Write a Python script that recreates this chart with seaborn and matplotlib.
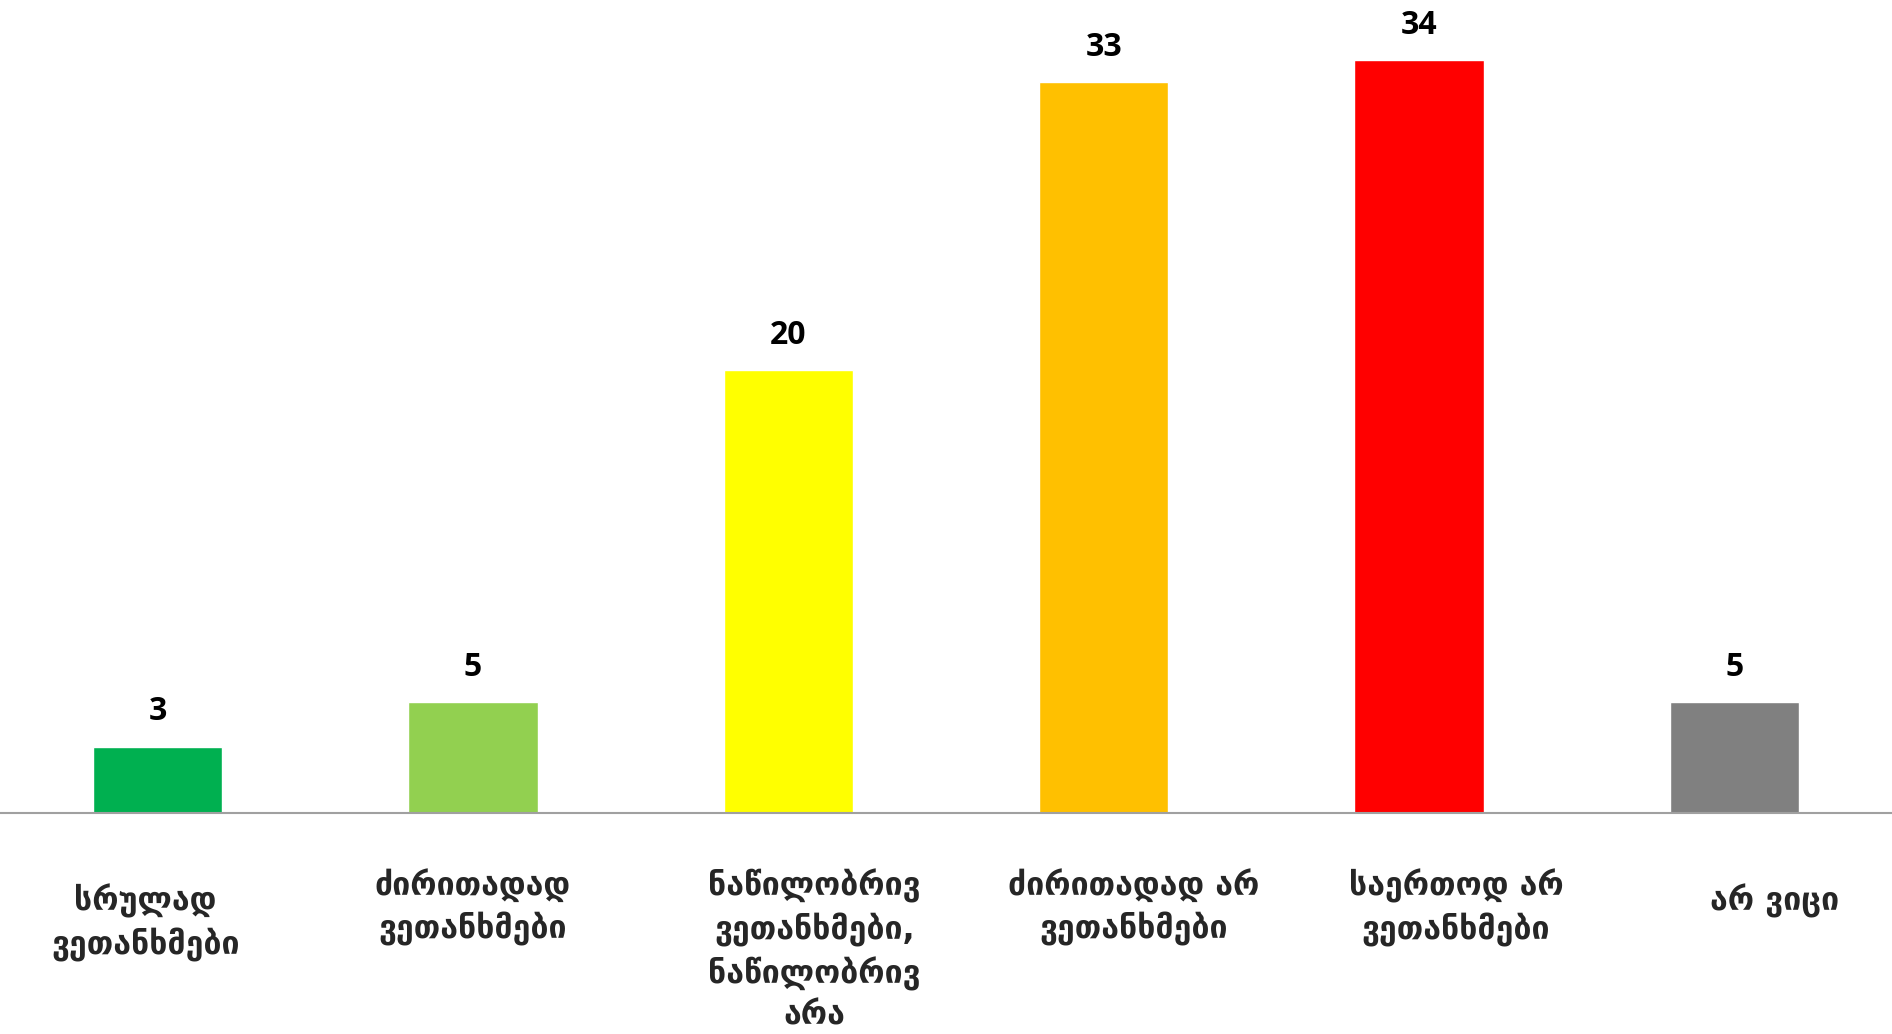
import pandas as pd
import matplotlib
matplotlib.use("Agg")
import matplotlib.pyplot as plt
import matplotlib.transforms as mtransforms
import seaborn as sns

# Datos del gráfico
categorias = [
    "სრულად\nვეთანხმები",
    "ძირითადად\nვეთანხმები",
    "ნაწილობრივ\nვეთანხმები,\nნაწილობრივ\nარა",
    "ძირითადად არ\nვეთანხმები",
    "საერთოდ არ\nვეთანხმები",
    "არ ვიცი",
]
valores = [3, 5, 20, 33, 34, 5]
colores = ["#00B050", "#92D050", "#FFFF00", "#FFC000", "#FF0000", "#808080"]

df = pd.DataFrame({"categoria": categorias, "valor": valores})

sns.set_style("white")
plt.rcParams["font.family"] = ["DejaVu Sans"]

fig = plt.figure(figsize=(18.92, 10.34), dpi=100)
ax = fig.add_axes([0, 1 - 813 / 1034, 1, 813 / 1034])

sns.barplot(data=df, x="categoria", y="valor", hue="categoria",
            palette=colores, width=0.41, legend=False, saturation=1, ax=ax)

# Etiquetas de valor encima de cada barra
for cont in ax.containers:
    ax.bar_label(cont, padding=13, fontsize=23, fontweight="bold",
                 family=["Open Sans", "DejaVu Sans"], color="black")

ax.set_xlim(-0.5, 5.5)
ax.set_ylim(0, 36.7)
ax.set_xlabel("")
ax.set_ylabel("")
ax.set_yticks([])
for lado in ["left", "right", "top"]:
    ax.spines[lado].set_visible(False)
ax.spines["bottom"].set_color("#A0A0A0")
ax.spines["bottom"].set_linewidth(1.5)

ax.tick_params(axis="x", length=0, pad=40)
ax.set_xticks(range(len(categorias)))
ax.set_xticklabels(categorias, fontsize=23, fontweight="bold",
                   linespacing=1.38, va="top", ha="center")

# desplazamientos de las etiquetas (en píxeles) para imitar el original
desplaz = [(-12, -15), (0, 0), (26, 0), (30, 0), (37, 0), (40, -15)]
for lbl, (dx, dy) in zip(ax.get_xticklabels(), desplaz):
    lbl.set_transform(lbl.get_transform() +
                      mtransforms.ScaledTranslation(dx / 100, dy / 100, fig.dpi_scale_trans))

fig.savefig("out.png", dpi=100)
plt.close(fig)
